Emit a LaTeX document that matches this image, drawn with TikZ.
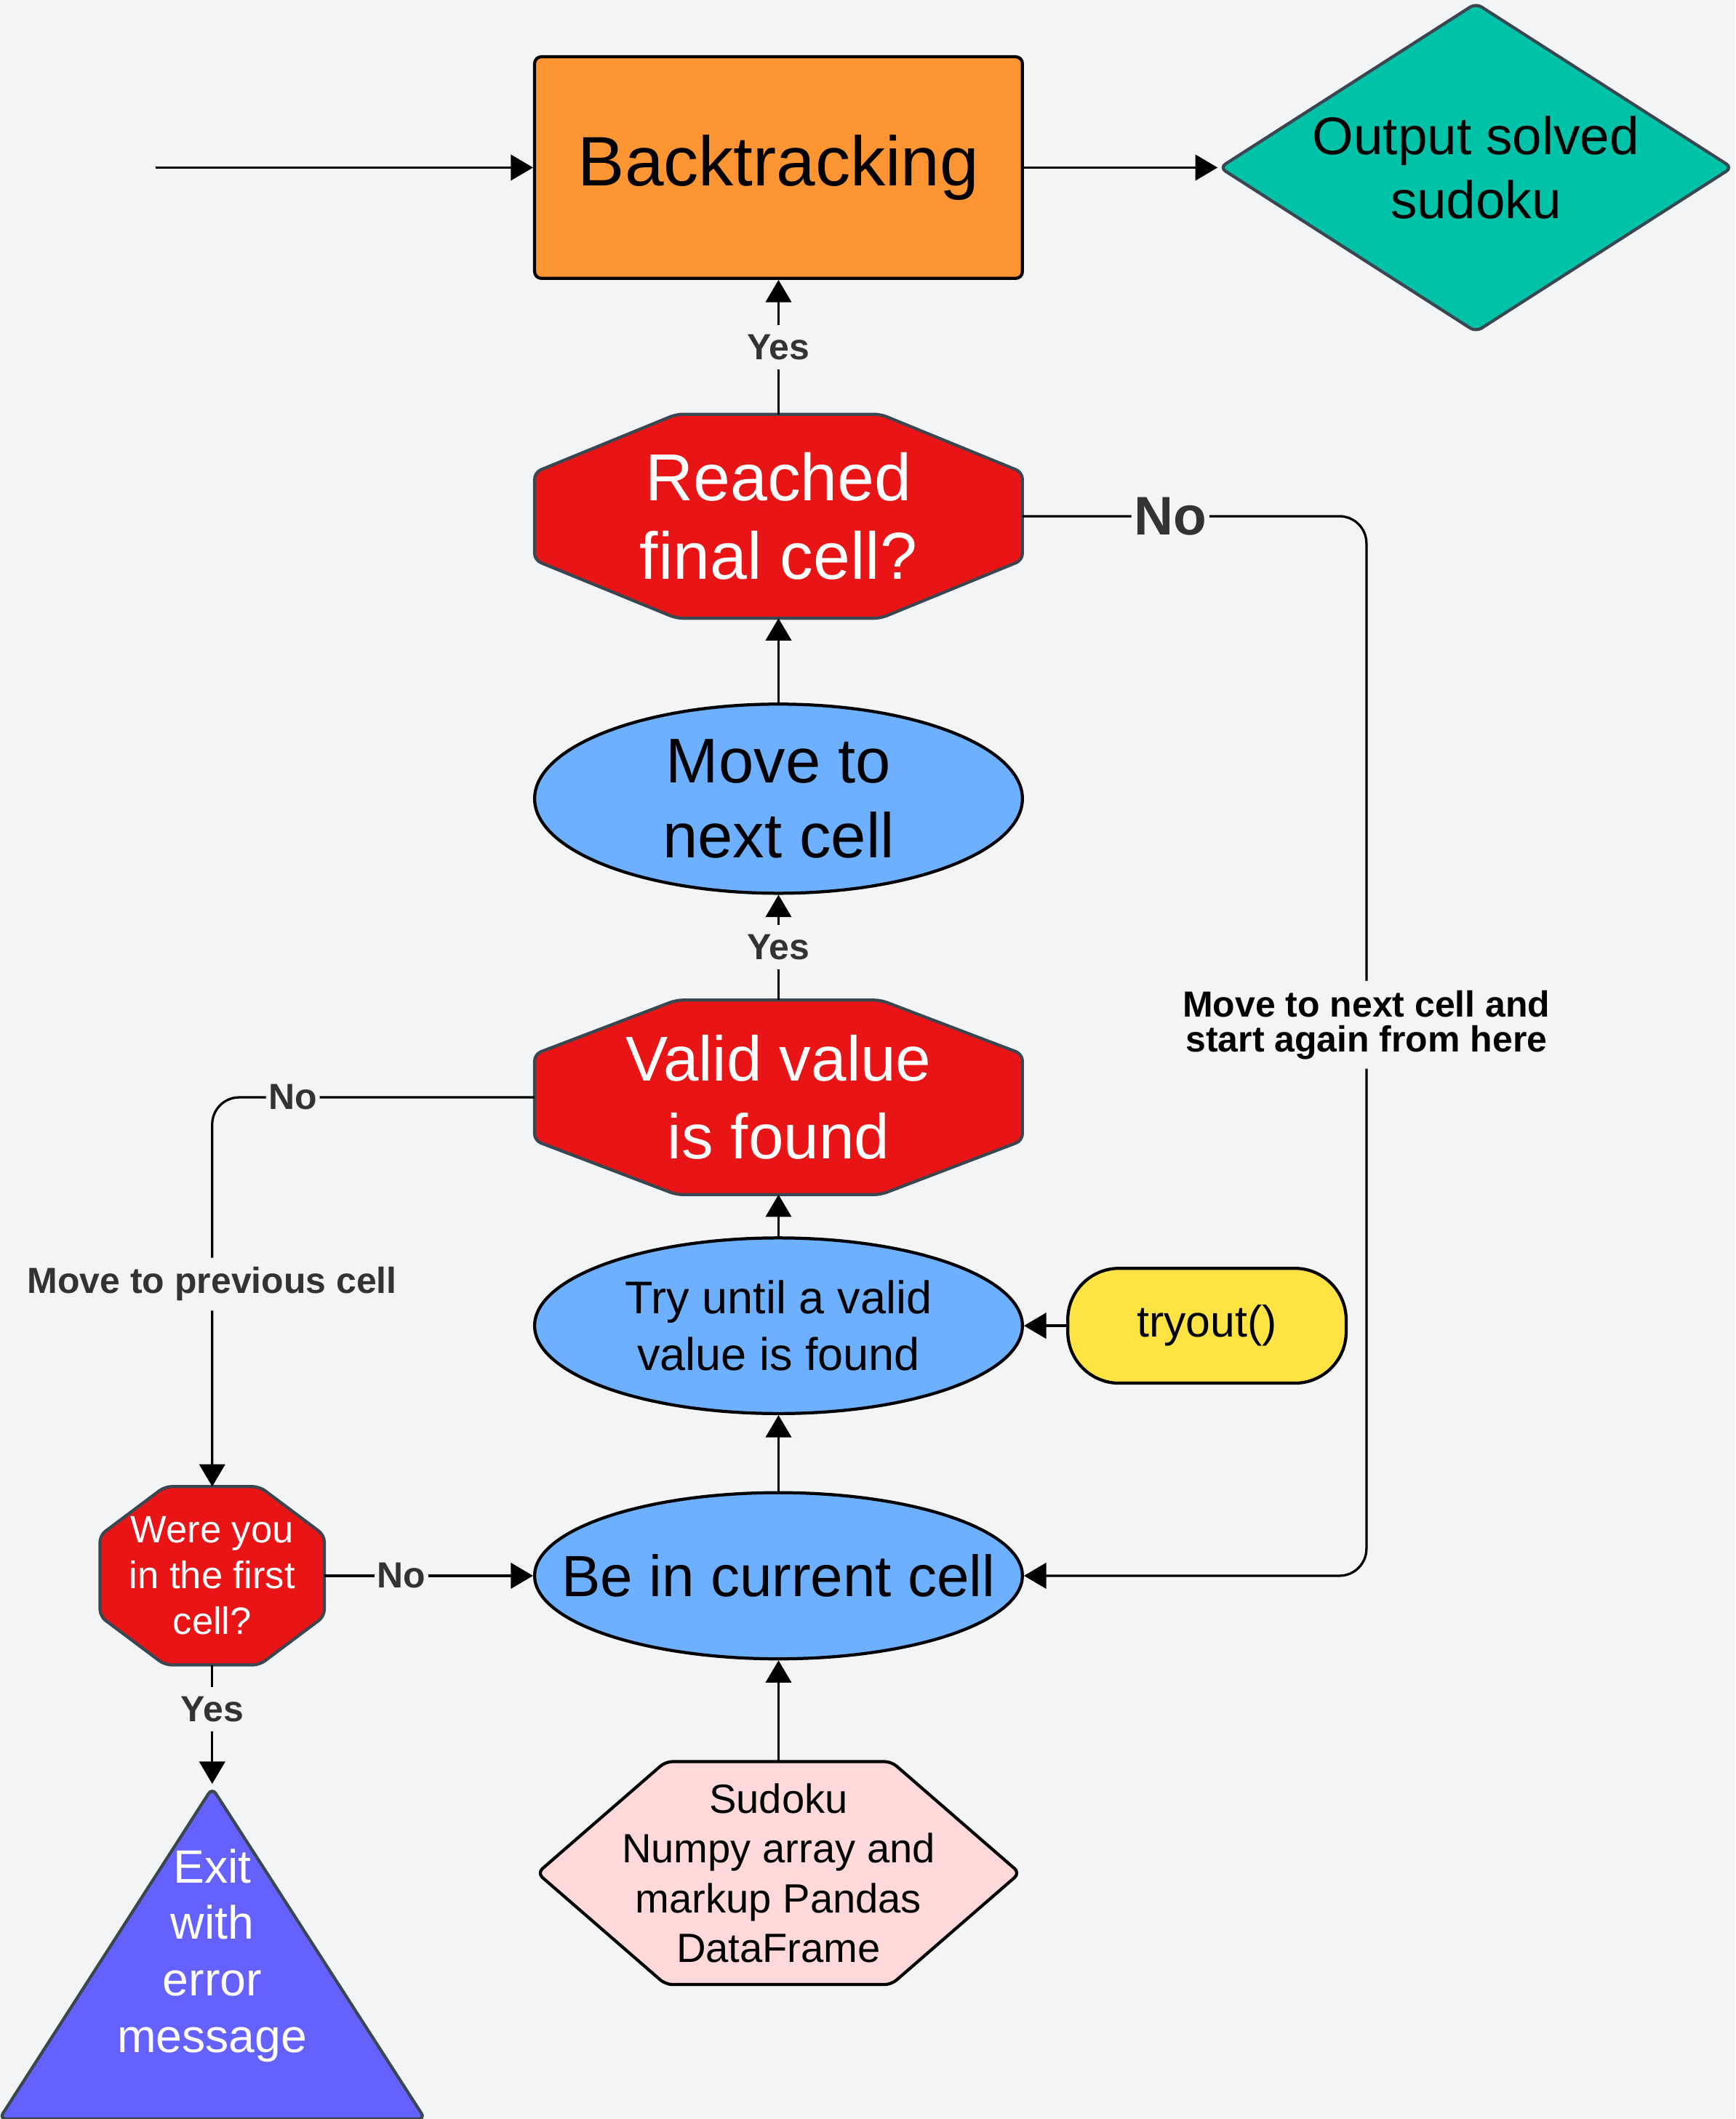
\documentclass[tikz,border=0pt]{standalone}
\usepackage{fontspec}
\setmainfont{Liberation Sans}
\usetikzlibrary{shapes.geometric,arrows.meta,backgrounds}
\definecolor{bgcol}{HTML}{F2F4F6}
\definecolor{orng}{HTML}{FD9533}
\definecolor{turq}{HTML}{00C2A8}
\definecolor{stopred}{HTML}{E81416}
\definecolor{skyblue}{HTML}{6CB0FF}
\definecolor{lemon}{HTML}{FFE342}
\definecolor{rosepink}{HTML}{FFD9DA}
\definecolor{purp}{HTML}{6461FF}
\definecolor{rim}{HTML}{3A4750}
\definecolor{lblgray}{HTML}{333333}
\begin{document}
\begin{tikzpicture}[x=0.02cm,y=-0.02cm,line width=1pt,>={Triangle[length=0.33cm,width=0.38cm]}]
			\newcommand{\fs}[2]{\fontsize{#1}{#2}\selectfont}
			% octagon round a box node: name, cut x, cut y, fill
			\newcommand{\octo}[4]{\filldraw[draw=rim,fill=#4,line width=1.3pt,rounded corners=0.1cm]
				([xshift=#2]#1.north west) -- ([xshift=-#2]#1.north east) -- ([yshift=-#3]#1.north east) -- ([yshift=#3]#1.south east)
				-- ([xshift=-#2]#1.south east) -- ([xshift=#2]#1.south west) -- ([yshift=#3]#1.south west) -- ([yshift=-#3]#1.north west) -- cycle;}
			\newcommand{\hexa}[3]{\filldraw[draw=black,fill=#3,line width=1.3pt,rounded corners=0.1cm]
				([xshift=#2]#1.north west) -- ([xshift=-#2]#1.north east) -- (#1.east) -- ([xshift=-#2]#1.south east)
				-- ([xshift=#2]#1.south west) -- (#1.west) -- cycle;}
			\useasboundingbox (0,0) rectangle (1284,1568);
			\begin{scope}[inner sep=0pt,align=center]
				\tikzstyle{every node}=[line width=1.3pt]
				\tikzstyle{octo}=[rectangle,outer sep=0pt,text=white]
				\tikzstyle{oval}=[ellipse,draw=black,fill=skyblue,minimum width=7.22cm]
				\tikzstyle{lbl}=[fill=bgcol,text=lblgray,font=\bfseries\fs{15.3}{16},inner xsep=0.04cm,inner ysep=0.14cm]
				\node[draw,fill=orng,rounded corners=0.1cm,minimum width=7.22cm,minimum height=3.28cm,font=\fs{29.5}{33}] (Back) at (576,124) {Backtracking};
				\node[diamond,draw=rim,fill=turq,rounded corners=0.1cm,aspect=1.56,minimum width=7.6cm,minimum height=4.88cm,font=\fs{22.3}{27.2}] (Out) at (1092,124) {Output solved\\sudoku};
				\node[octo,minimum width=7.22cm,minimum height=3.02cm,font=\fs{28}{32.9}] (Reached) at (576,382) {Reached\\final cell?};
				\node[oval,minimum height=2.8cm,font=\fs{26.6}{31.7}] (Next) at (576,591) {Move to\\next cell};
				\node[octo,minimum width=7.22cm,minimum height=2.88cm,font=\fs{26.7}{32.9}] (Valid) at (576,812) {Valid value\\is found};
				\node[oval,minimum height=2.6cm,font=\fs{19.3}{23.8}] (Try) at (576,981) {Try until a valid\\value is found};
				\node[draw=black,fill=lemon,rounded corners=0.76cm,minimum width=4.12cm,minimum height=1.7cm,font=\fs{18.6}{22}] (Tryout) at (893,981) {tryout()};
				\node[oval,minimum height=2.46cm,font=\fs{24.5}{28}] (Cur) at (576,1166) {\makebox[0pt]{Be in current cell}};
				\node[octo,minimum width=3.32cm,minimum height=2.64cm,font=\fs{16.1}{19.3}] (First) at (157,1166) {Were you\\in the first\\cell?};
				\node[rectangle,outer sep=0pt,minimum width=7.14cm,minimum height=3.3cm,font=\fs{17.2}{21}] (Input) at (576,1386) {Sudoku\\Numpy array and\\markup Pandas\\DataFrame};
				\node[isosceles triangle,isosceles triangle stretches,shape border rotate=90,draw=rim,fill=purp,rounded corners=0.1cm,minimum width=6.3cm,minimum height=4.9cm,anchor=apex,
					label={[text=white,align=center,yshift=0.7cm,font=\fs{19.7}{23.8}]center:Exit\\with\\error\\message}] (Exit) at (157,1320) {};
				\coordinate (Start) at (115,124);
				\coordinate (Rx) at (1011,0);
				\coordinate (Lx) at (157,0);
				\draw [->] (Start) -- (Back);
				\draw [->] (Back) -- (Out);
				\draw [->] (Reached) -- node[lbl]{Yes} (Back);
				\draw [->] (Next) -- (Reached);
				\draw [->] (Valid) -- node[lbl]{Yes} (Next);
				\draw [->] (Try) -- (Valid);
				\draw [->] (Tryout) -- (Try);
				\draw [->] (Cur) -- (Try);
				\draw [->] (Input) -- (Cur);
				\draw [->] (First) -- node[lbl,pos=.37]{No} (Cur);
				\draw [->] (First) -- node[lbl,pos=.375]{Yes} (Exit.apex);
				\draw [->,rounded corners=0.4cm] (Reached) -- node[lbl,pos=.43,font=\bfseries\fs{22.9}{24}]{No} (Reached -| Rx)
					-- node[lbl,pos=.48,text=black,font=\bfseries\fs{15.3}{14.7}]{Move to next cell and\\start again from here} (Cur -| Rx) -- (Cur);
				\draw [->,rounded corners=0.4cm] (Valid) -- node[lbl,pos=.75]{No} (Valid -| Lx)
					-- node[lbl,pos=.48]{Move to previous cell} (First);
			\end{scope}
			\begin{scope}[on background layer]
				\fill[bgcol] (0,0) rectangle (1284,1568);
				\octo{Reached}{2.1cm}{0.86cm}{stopred}
				\octo{Valid}{2.1cm}{0.8cm}{stopred}
				\octo{First}{0.96cm}{0.72cm}{stopred}
				\hexa{Input}{1.9cm}{rosepink}
			\end{scope}
\end{tikzpicture}
\end{document}
